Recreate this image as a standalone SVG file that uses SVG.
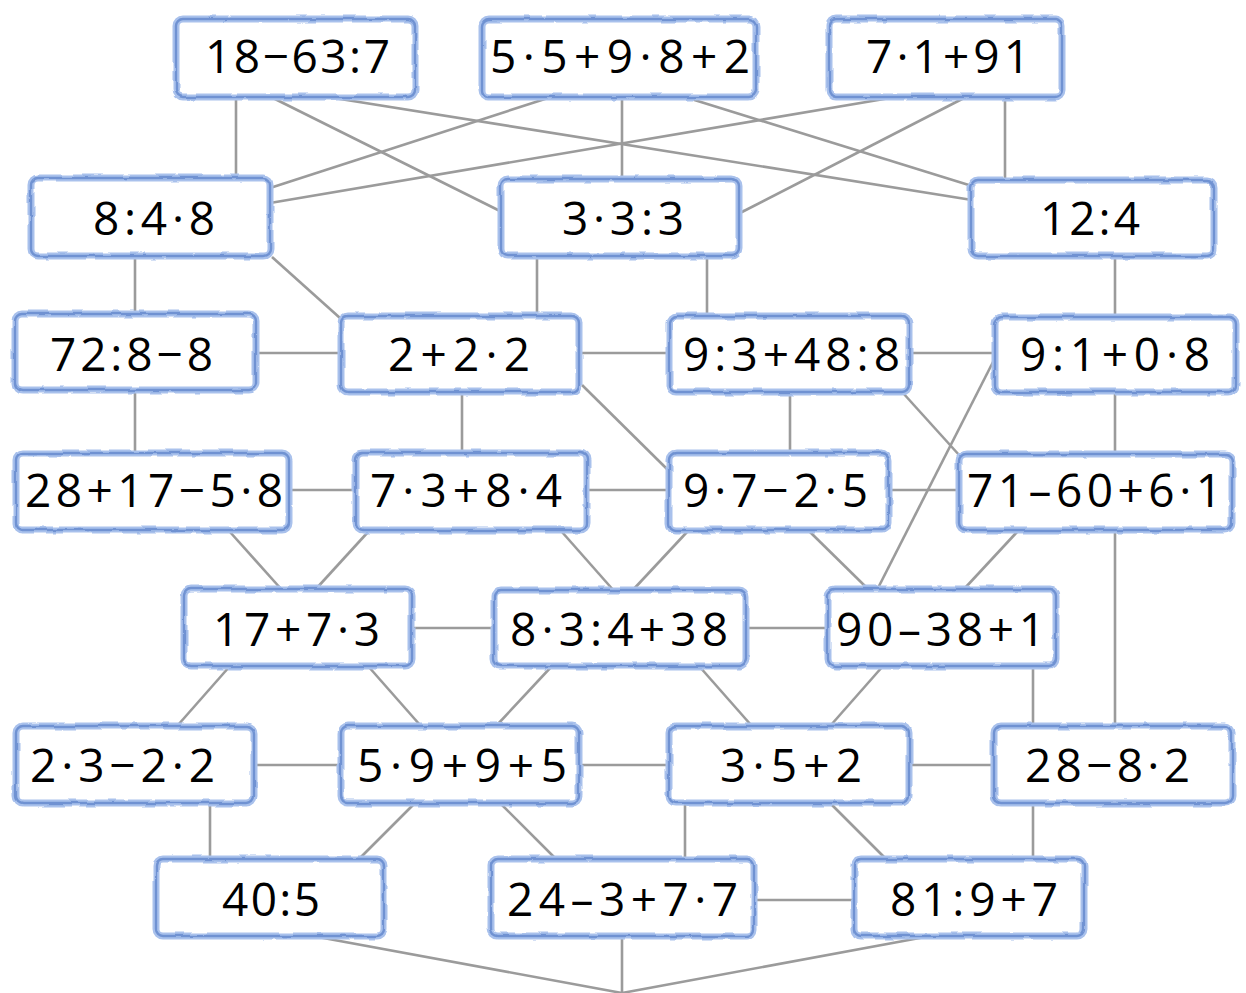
<svg xmlns="http://www.w3.org/2000/svg" width="1246" height="993" viewBox="0 0 1246 993">
<style>
.c line{stroke:#9b9b9b;stroke-width:2.6;fill:none}
.bo{fill:#fff;stroke:#a9c1ec;stroke-width:7;filter:url(#rough)}
.bi{fill:none;stroke:#6f92d2;stroke-width:2.4;filter:url(#rough)}
text{font-family:"Open Sans","Noto Sans","Liberation Sans",sans-serif;font-size:46px;fill:#000}
</style>
<defs>
<filter id="rough" x="-5%" y="-10%" width="110%" height="120%">
<feTurbulence type="fractalNoise" baseFrequency="0.05" numOctaves="2" seed="3" result="n"/>
<feDisplacementMap in="SourceGraphic" in2="n" scale="3.5" xChannelSelector="R" yChannelSelector="G"/>
</filter>
</defs>
<rect width="1246" height="993" fill="#fff"/>
<g class="c" id="connectors">
<line x1="236" y1="98" x2="236" y2="178"/>
<line x1="273" y1="98" x2="502" y2="212"/>
<line x1="334" y1="98" x2="972" y2="200"/>
<line x1="548" y1="98" x2="270" y2="188"/>
<line x1="622" y1="98" x2="622" y2="178"/>
<line x1="688" y1="98" x2="972" y2="186"/>
<line x1="890" y1="98" x2="270" y2="203"/>
<line x1="964" y1="98" x2="740" y2="213"/>
<line x1="1005" y1="98" x2="1005" y2="178"/>
<line x1="135" y1="257" x2="135" y2="313"/>
<line x1="272" y1="257" x2="340" y2="318"/>
<line x1="537" y1="257" x2="537" y2="315"/>
<line x1="707" y1="257" x2="707" y2="315"/>
<line x1="1115" y1="257" x2="1115" y2="315"/>
<line x1="257" y1="353" x2="340" y2="353"/>
<line x1="580" y1="353" x2="668" y2="353"/>
<line x1="910" y1="353" x2="995" y2="353"/>
<line x1="135" y1="390" x2="135" y2="452"/>
<line x1="462" y1="392" x2="462" y2="452"/>
<line x1="582" y1="385" x2="668" y2="470"/>
<line x1="790" y1="392" x2="790" y2="452"/>
<line x1="903" y1="393" x2="960" y2="456"/>
<line x1="1115" y1="392" x2="1115" y2="453"/>
<line x1="994" y1="360" x2="877" y2="590"/>
<line x1="290" y1="490" x2="355" y2="490"/>
<line x1="588" y1="490" x2="668" y2="490"/>
<line x1="890" y1="490" x2="958" y2="490"/>
<line x1="230" y1="532" x2="282" y2="590"/>
<line x1="368" y1="532" x2="315" y2="590"/>
<line x1="562" y1="532" x2="615" y2="592"/>
<line x1="687" y1="532" x2="631" y2="592"/>
<line x1="810" y1="532" x2="867" y2="588"/>
<line x1="1017" y1="532" x2="965" y2="588"/>
<line x1="1115" y1="530" x2="1115" y2="725"/>
<line x1="413" y1="628" x2="493" y2="628"/>
<line x1="747" y1="628" x2="827" y2="628"/>
<line x1="230" y1="666" x2="178" y2="725"/>
<line x1="368" y1="666" x2="420" y2="725"/>
<line x1="552" y1="666" x2="497" y2="725"/>
<line x1="699" y1="666" x2="751" y2="725"/>
<line x1="883" y1="666" x2="831" y2="725"/>
<line x1="1033" y1="666" x2="1033" y2="725"/>
<line x1="255" y1="765" x2="340" y2="765"/>
<line x1="580" y1="765" x2="668" y2="765"/>
<line x1="910" y1="765" x2="993" y2="765"/>
<line x1="210" y1="803" x2="210" y2="858"/>
<line x1="415" y1="803" x2="360" y2="858"/>
<line x1="500" y1="803" x2="555" y2="858"/>
<line x1="685" y1="803" x2="685" y2="858"/>
<line x1="830" y1="803" x2="885" y2="858"/>
<line x1="1033" y1="803" x2="1033" y2="858"/>
<line x1="755" y1="900" x2="853" y2="900"/>
<line x1="318" y1="937" x2="622" y2="993"/>
<line x1="622" y1="937" x2="622" y2="993"/>
<line x1="925" y1="937" x2="622" y2="993"/>
</g>
<g id="nA"><rect class="bo" x="176" y="19" width="239" height="78" rx="7"/><rect class="bi" x="176" y="19" width="239" height="78" rx="7"/><text x="205" y="73" textLength="185" lengthAdjust="spacing">18−63:7</text></g>
<g id="nB"><rect class="bo" x="482" y="19" width="274" height="78" rx="7"/><rect class="bi" x="482" y="19" width="274" height="78" rx="7"/><text x="490" y="73" textLength="260" lengthAdjust="spacing">5·5+9·8+2</text></g>
<g id="nC"><rect class="bo" x="829" y="19" width="233" height="78" rx="7"/><rect class="bi" x="829" y="19" width="233" height="78" rx="7"/><text x="866" y="73" textLength="164" lengthAdjust="spacing">7·1+91</text></g>
<g id="nD"><rect class="bo" x="31" y="178" width="239" height="78" rx="7"/><rect class="bi" x="31" y="178" width="239" height="78" rx="7"/><text x="93" y="235" textLength="122" lengthAdjust="spacing">8:4·8</text></g>
<g id="nE"><rect class="bo" x="501" y="179" width="238" height="77" rx="7"/><rect class="bi" x="501" y="179" width="238" height="77" rx="7"/><text x="562" y="235" textLength="122" lengthAdjust="spacing">3·3:3</text></g>
<g id="nF"><rect class="bo" x="971" y="180" width="243" height="76" rx="7"/><rect class="bi" x="971" y="180" width="243" height="76" rx="7"/><text x="1040" y="235" textLength="100" lengthAdjust="spacing">12:4</text></g>
<g id="nG"><rect class="bo" x="15" y="314" width="241" height="76" rx="7"/><rect class="bi" x="15" y="314" width="241" height="76" rx="7"/><text x="50" y="371" textLength="163" lengthAdjust="spacing">72:8−8</text></g>
<g id="nH"><rect class="bo" x="341" y="316" width="238" height="76" rx="7"/><rect class="bi" x="341" y="316" width="238" height="76" rx="7"/><text x="388" y="371" textLength="142" lengthAdjust="spacing">2+2·2</text></g>
<g id="nI"><rect class="bo" x="669" y="316" width="240" height="76" rx="7"/><rect class="bi" x="669" y="316" width="240" height="76" rx="7"/><text x="683" y="371" textLength="217" lengthAdjust="spacing">9:3+48:8</text></g>
<g id="nJ"><rect class="bo" x="995" y="317" width="241" height="75" rx="7"/><rect class="bi" x="995" y="317" width="241" height="75" rx="7"/><text x="1020" y="371" textLength="190" lengthAdjust="spacing">9:1+0·8</text></g>
<g id="nK"><rect class="bo" x="16" y="453" width="273" height="77" rx="7"/><rect class="bi" x="16" y="453" width="273" height="77" rx="7"/><text x="25" y="507" textLength="258" lengthAdjust="spacing">28+17−5·8</text></g>
<g id="nL"><rect class="bo" x="356" y="453" width="231" height="77" rx="7"/><rect class="bi" x="356" y="453" width="231" height="77" rx="7"/><text x="370" y="507" textLength="192" lengthAdjust="spacing">7·3+8·4</text></g>
<g id="nM"><rect class="bo" x="669" y="453" width="220" height="77" rx="7"/><rect class="bi" x="669" y="453" width="220" height="77" rx="7"/><text x="683" y="507" textLength="185" lengthAdjust="spacing">9·7−2·5</text></g>
<g id="nN"><rect class="bo" x="959" y="454" width="273" height="76" rx="7"/><rect class="bi" x="959" y="454" width="273" height="76" rx="7"/><text x="967" y="507" textLength="255" lengthAdjust="spacing">71–60+6·1</text></g>
<g id="nO"><rect class="bo" x="184" y="589" width="228" height="77" rx="7"/><rect class="bi" x="184" y="589" width="228" height="77" rx="7"/><text x="213" y="646" textLength="167" lengthAdjust="spacing">17+7·3</text></g>
<g id="nP"><rect class="bo" x="494" y="590" width="252" height="76" rx="7"/><rect class="bi" x="494" y="590" width="252" height="76" rx="7"/><text x="510" y="646" textLength="218" lengthAdjust="spacing">8·3:4+38</text></g>
<g id="nQ"><rect class="bo" x="828" y="589" width="228" height="77" rx="7"/><rect class="bi" x="828" y="589" width="228" height="77" rx="7"/><text x="836" y="646" textLength="209" lengthAdjust="spacing">90–38+1</text></g>
<g id="nR"><rect class="bo" x="16" y="726" width="238" height="77" rx="7"/><rect class="bi" x="16" y="726" width="238" height="77" rx="7"/><text x="30" y="782" textLength="185" lengthAdjust="spacing">2·3−2·2</text></g>
<g id="nS"><rect class="bo" x="341" y="726" width="238" height="77" rx="7"/><rect class="bi" x="341" y="726" width="238" height="77" rx="7"/><text x="357" y="782" textLength="210" lengthAdjust="spacing">5·9+9+5</text></g>
<g id="nT"><rect class="bo" x="669" y="726" width="240" height="77" rx="7"/><rect class="bi" x="669" y="726" width="240" height="77" rx="7"/><text x="720" y="782" textLength="142" lengthAdjust="spacing">3·5+2</text></g>
<g id="nU"><rect class="bo" x="994" y="726" width="238" height="77" rx="7"/><rect class="bi" x="994" y="726" width="238" height="77" rx="7"/><text x="1025" y="782" textLength="165" lengthAdjust="spacing">28−8·2</text></g>
<g id="nV"><rect class="bo" x="156" y="859" width="228" height="77" rx="7"/><rect class="bi" x="156" y="859" width="228" height="77" rx="7"/><text x="222" y="916" textLength="98" lengthAdjust="spacing">40:5</text></g>
<g id="nW"><rect class="bo" x="491" y="859" width="263" height="77" rx="7"/><rect class="bi" x="491" y="859" width="263" height="77" rx="7"/><text x="507" y="916" textLength="231" lengthAdjust="spacing">24–3+7·7</text></g>
<g id="nX"><rect class="bo" x="854" y="859" width="230" height="77" rx="7"/><rect class="bi" x="854" y="859" width="230" height="77" rx="7"/><text x="890" y="916" textLength="168" lengthAdjust="spacing">81:9+7</text></g>
</svg>
